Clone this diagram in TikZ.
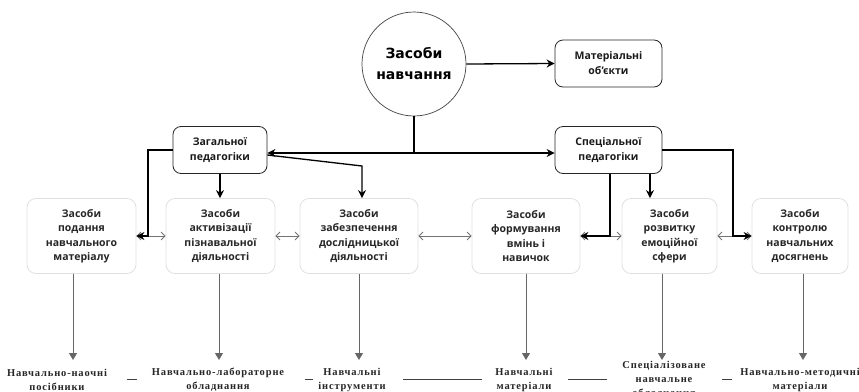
\documentclass[tikz,border=0pt]{standalone}
\usepackage{fontspec}
\setmainfont{Open Sans}
\newfontfamily\circfont{DejaVu Sans}
\newfontfamily\botfont[LetterSpace=8]{Liberation Serif}
\usetikzlibrary{arrows.meta}
\begin{document}
\begin{tikzpicture}[x=1pt,y=-1pt,
  topbox/.style={draw=black!85, line width=0.8pt, rounded corners=8pt, align=center,
    font=\bfseries\fontsize{10.5}{15}\selectfont, text=black!90, inner sep=0pt},
  lowbox/.style={draw=black!12, line width=0.8pt, rounded corners=9pt, minimum height=75pt,
    align=center, font=\bfseries\fontsize{10.5}{14.5}\selectfont, text=black!85, inner sep=0pt},
  blk/.style={draw=black, line width=1.3pt, -{Stealth[length=8pt,width=8pt]}},
  blkline/.style={draw=black, line width=1.3pt},
  gry/.style={draw=black!55, line width=0.8pt, {Straight Barb[length=4pt,width=8pt]}-{Straight Barb[length=4pt,width=8pt]}},
  vgry/.style={draw=black!60, line width=1pt, -{Triangle[length=7pt,width=8pt]}},
  lab/.style={font=\botfont\bfseries\fontsize{10.5}{14}\selectfont, align=center, text=black!85, inner sep=0pt},
  dashln/.style={draw=black!75, line width=0.9pt}]
\useasboundingbox (0,0) rectangle (859,391);
% main circle
\node[circle, draw=black!75, line width=0.7pt, minimum size=104pt, inner sep=0pt, align=center,
  font=\circfont\bfseries\fontsize{14}{21}\selectfont] (c) at (414,64) {Засоби\\навчання};
\node[topbox, minimum width=107pt, minimum height=47pt] (mat) at (608.5,63.5) {Матеріальні\\об’єкти};
\node[topbox, minimum width=94pt, minimum height=47pt] (zag) at (220,150) {Загальної\\педагогіки};
\node[topbox, minimum width=107pt, minimum height=47pt] (spec) at (608.5,150) {Спеціальної\\педагогіки};
% lower row
\node[lowbox, minimum width=109pt] (b1) at (81.5,236) {Засоби\\подання\\навчального\\матеріалу};
\node[lowbox, minimum width=109pt] (b2) at (220.5,236) {Засоби\\активізації\\пізнавальної\\діяльності};
\node[lowbox, minimum width=118pt] (b3) at (359,236) {Засоби\\забезпечення\\дослідницької\\діяльності};
\node[lowbox, minimum width=108pt] (b4) at (526,236) {Засоби\\формування\\вмінь і\\навичок};
\node[lowbox, minimum width=95pt] (b5) at (669.5,236) {Засоби\\розвитку\\емоційної\\сфери};
\node[lowbox, minimum width=96pt] (b6) at (800,236) {Засоби\\контролю\\навчальних\\досягнень};
% bottom labels
\node[lab] (l1) at (57,380) {Навчально-наочні\\посібники};
\node[lab] (l2) at (218,380) {Навчально-лабораторне\\обладнання};
\node[lab] (l3) at (352,380) {Навчальні\\інструменти};
\node[lab] (l4) at (524,380) {Навчальні\\матеріали};
\node[lab] (l5) at (664,380) {Спеціалізоване\\навчальне\\обладнання};
\node[lab] (l6) at (800,380) {Навчально-методичні\\матеріали};
% coordinates
\coordinate (j) at (414,153);
\coordinate (k1) at (148,236);
\coordinate (k2) at (362,166);
\coordinate (k3) at (733,236);
\coordinate (a1) at (73,360);
\coordinate (a2) at (219,360);
\coordinate (a3) at (359,360);
\coordinate (a4) at (526,360);
\coordinate (a5) at (662,360);
\coordinate (a6) at (803,360);
% gray horizontal arrows
\draw[gry] (b1.east) -- (b2.west);
\draw[gry] (b2.east) -- (b3.west);
\draw[gry] (b3.east) -- (b4.west);
\draw[gry] (b4.east) -- (b5.west);
\draw[gry] (b5.east) -- (b6.west);
% gray vertical arrows
\draw[vgry] (b1.south -| a1) -- (a1);
\draw[vgry] (b2.south -| a2) -- (a2);
\draw[vgry] (b3.south -| a3) -- (a3);
\draw[vgry] (b4.south -| a4) -- (a4);
\draw[vgry] (b5.south -| a5) -- (a5);
\draw[vgry] (b6.south -| a6) -- (a6);
% black connectors
\draw[blk] (c.east) -- (mat.west);
\draw[blkline] (c.south) -- (j);
\draw[blk] (j) -- (j -| zag.east);
\draw[blk] (j) -- (j -| spec.west);
\draw[blk] (zag.west) -| (k1) -- (b1.east);
\draw[blk] (zag.south) -- (zag.south |- b2.north);
\draw[blk] ([yshift=-5pt]zag.east) -- (k2) -- (k2 |- b3.north);
\draw[blk] ([xshift=1.5pt]spec.south) -- ([xshift=1.5pt]spec.south |- b4.east) -- (b4.east);
\draw[blk] ([xshift=41.5pt]spec.south) -- ([xshift=41.5pt]spec.south |- b5.north);
\draw[blk] (spec.east) -| (k3) -- (b6.west);
% dashes between bottom labels
\draw[dashln] (127,379) -- (137,379);
\draw[dashln] (305,379) -- (313,379);
\draw[dashln] (403,379) -- (482,379);
\draw[dashln] (568,379) -- (607,379);
\draw[dashln] (722,379) -- (732,379);
\end{tikzpicture}
\end{document}
